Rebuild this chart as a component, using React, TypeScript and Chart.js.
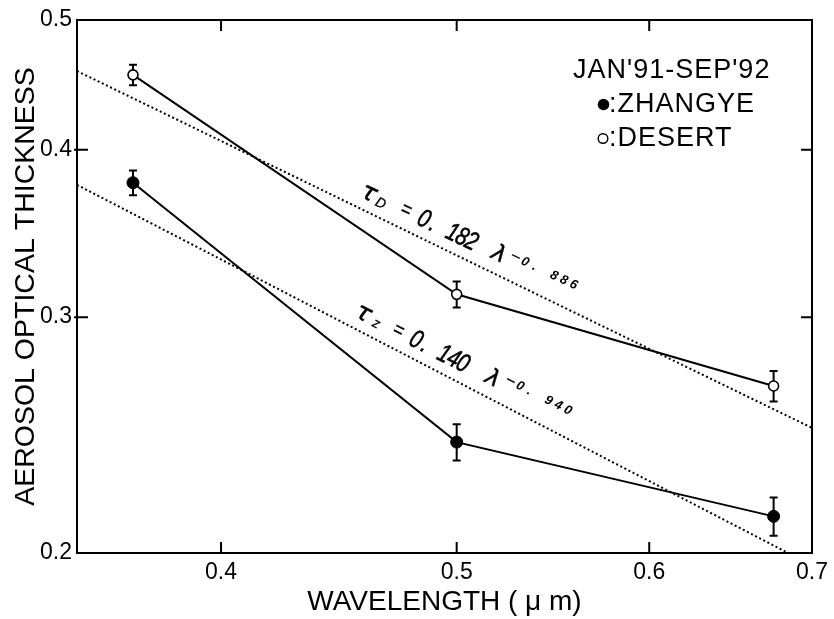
import React, { useEffect, useRef } from 'react';
import { Chart, registerables } from 'chart.js';

Chart.register(...registerables);

// ---- data ----
const wavelengths = [0.368, 0.5, 0.675];
const zhangyeAOT = [0.378, 0.242, 0.213];
const zhangyeErr = [0.008, 0.0075, 0.007];
const desertAOT = [0.455, 0.312, 0.2665];
const desertErr = [0.008, 0.007, 0.007];
// fitted power-law lines (straight in log-log), end values at the axis range
const fitWavelengths = [0.349, 0.7];
const desertFit = [0.458, 0.248];
const zhangyeFit = [0.3766, 0.1958];
const xTicks = [0.4, 0.5, 0.6, 0.7];
const yTicks = [0.2, 0.3, 0.4, 0.5];
const xRange = [0.349, 0.7];
const yRange = [0.2, 0.5];
// annotation anchors (data coordinates of the leading τ)
const desertLabelAnchor = [0.46, 0.371];
const zhangyeLabelAnchor = [0.4576, 0.3017];

const SANS = '"Liberation Sans", Arial, Helvetica, sans-serif';

const toPts = (xs: number[], ys: number[]) => xs.map((x, i) => ({ x, y: ys[i] }));

type Glyph = { ch: string; a: number; p: number; font: string; sx?: number; w?: number };

function formulaGlyphs(sub: string, coef: string, expo: string, layout: any): Glyph[] {
  const g: Glyph[] = [];
  const mainFont = `italic 26px ${SANS}`;
  const expFont = `italic bold 13px ${SANS}`;
  g.push({ ch: 'τ', a: 0, p: 0, font: 'italic 25px "DejaVu Sans"', w: 0.5 });
  g.push({ ch: sub, a: layout.sub, p: layout.subP, font: `italic 14px ${SANS}`, w: 0.3 });
  g.push({ ch: '=', a: layout.eq, p: -1, font: `italic 22px ${SANS}`, sx: 0.8, w: 0.3 });
  coef.split('').forEach((ch, i) => {
    if (ch !== ' ') g.push({ ch, a: layout.coef + i * 10.5, p: 0, font: mainFont, sx: 0.78, w: 0.6 });
  });
  g.push({ ch: 'λ', a: layout.lam, p: 0, font: 'italic 23px "DejaVu Sans"', w: 0.4 });
  expo.split('').forEach((ch, i) => {
    if (ch === ' ') return;
    if (ch === '-') g.push({ ch: '−', a: layout.exp + i * 10.7, p: layout.expP, font: `17px ${SANS}`, w: 0.3 });
    else g.push({ ch, a: layout.exp + i * 10.7, p: layout.expP, font: expFont });
  });
  return g;
}

const desertGlyphs = formulaGlyphs('D', '0. 182', '-0. 886', { sub: 15, subP: 4, eq: 41, coef: 61, lam: 144, exp: 160, expP: -5 });
const zhangyeGlyphs = formulaGlyphs('z', '0. 140', '-0. 940', { sub: 16, subP: 3, eq: 39, coef: 59, lam: 145, exp: 162, expP: -6 });

const errorBarPlugin = {
  id: 'errorBars',
  beforeDatasetsDraw(chart: any) {
    const { ctx, scales } = chart;
    const x = scales.x, y = scales.y;
    const sets = [
      { v: zhangyeAOT, e: zhangyeErr },
      { v: desertAOT, e: desertErr },
    ];
    ctx.save();
    ctx.strokeStyle = '#000';
    ctx.lineWidth = 2;
    sets.forEach(({ v, e }) => {
      wavelengths.forEach((w, i) => {
        const px = x.getPixelForValue(w);
        const top = y.getPixelForValue(v[i] + e[i]);
        const bot = y.getPixelForValue(v[i] - e[i]);
        ctx.beginPath();
        ctx.moveTo(px, top);
        ctx.lineTo(px, bot);
        ctx.moveTo(px - 4, top);
        ctx.lineTo(px + 4, top);
        ctx.moveTo(px - 4, bot);
        ctx.lineTo(px + 4, bot);
        ctx.stroke();
      });
    });
    ctx.restore();
  },
};

const framePlugin = {
  id: 'frame',
  afterDatasetsDraw(chart: any) {
    const { ctx, chartArea: ca, scales } = chart;
    ctx.save();
    ctx.strokeStyle = '#000';
    ctx.lineWidth = 2;
    ctx.strokeRect(ca.left, ca.top, ca.right - ca.left, ca.bottom - ca.top);
    const L = 11;
    ctx.beginPath();
    xTicks.forEach((t) => {
      const px = scales.x.getPixelForValue(t);
      if (px <= ca.left + 2 || px >= ca.right - 2) return;
      ctx.moveTo(px, ca.bottom);
      ctx.lineTo(px, ca.bottom - L);
      ctx.moveTo(px, ca.top);
      ctx.lineTo(px, ca.top + L);
    });
    yTicks.forEach((t) => {
      const py = scales.y.getPixelForValue(t);
      if (py <= ca.top + 2 || py >= ca.bottom - 2) return;
      ctx.moveTo(ca.left - 3, py);
      ctx.lineTo(ca.left + L, py);
      ctx.moveTo(ca.right, py);
      ctx.lineTo(ca.right - L, py);
    });
    ctx.stroke();
    ctx.restore();
  },
};

function drawFormula(ctx: CanvasRenderingContext2D, ox: number, oy: number, angle: number, glyphs: Glyph[]) {
  ctx.save();
  ctx.translate(ox, oy);
  ctx.rotate(angle);
  ctx.fillStyle = '#000';
  ctx.strokeStyle = '#000';
  ctx.textAlign = 'center';
  ctx.textBaseline = 'middle';
  glyphs.forEach((g) => {
    ctx.save();
    ctx.translate(g.a, g.p);
    ctx.scale(g.sx ?? 1, 1);
    ctx.font = g.font;
    ctx.fillText(g.ch, 0, 0);
    if (g.w) {
      ctx.lineWidth = g.w;
      ctx.strokeText(g.ch, 0, 0);
    }
    ctx.restore();
  });
  ctx.restore();
}

const annotationPlugin = {
  id: 'annotations',
  afterDraw(chart: any) {
    const { ctx, scales } = chart;
    const x = scales.x, y = scales.y;
    const lineAngle = (fit: number[]) => {
      const x0 = x.getPixelForValue(fitWavelengths[0]);
      const x1 = x.getPixelForValue(fitWavelengths[1]);
      const y0 = y.getPixelForValue(fit[0]);
      const y1 = y.getPixelForValue(fit[1]);
      return Math.atan2(y1 - y0, x1 - x0) - (0.6 * Math.PI) / 180;
    };
    drawFormula(ctx, x.getPixelForValue(desertLabelAnchor[0]), y.getPixelForValue(desertLabelAnchor[1]), lineAngle(desertFit), desertGlyphs);
    drawFormula(ctx, x.getPixelForValue(zhangyeLabelAnchor[0]), y.getPixelForValue(zhangyeLabelAnchor[1]), lineAngle(zhangyeFit), zhangyeGlyphs);

    // legend text block
    ctx.save();
    ctx.fillStyle = '#000';
    ctx.strokeStyle = '#000';
    ctx.font = `27px ${SANS}`;
    (ctx as any).letterSpacing = '1px';
    ctx.textAlign = 'left';
    ctx.textBaseline = 'alphabetic';
    ctx.fillText("JAN'91-SEP'92", 573, 78);
    ctx.fillText(':ZHANGYE', 609, 112);
    ctx.fillText(':DESERT', 609, 146);
    ctx.beginPath();
    ctx.arc(603.5, 104.5, 5.8, 0, Math.PI * 2);
    ctx.fill();
    ctx.beginPath();
    ctx.lineWidth = 1.4;
    ctx.arc(603, 138.5, 4.8, 0, Math.PI * 2);
    ctx.stroke();
    ctx.restore();
  },
};

export default function App() {
  const ref = useRef<HTMLCanvasElement | null>(null);
  useEffect(() => {
    if (!ref.current) return;
    const chart = new Chart(ref.current, {
      type: 'line',
      data: {
        datasets: [
          {
            label: 'ZHANGYE',
            data: toPts(wavelengths, zhangyeAOT),
            borderColor: '#000',
            borderWidth: 2,
            pointRadius: 6,
            pointBackgroundColor: '#000',
            pointBorderColor: '#000',
            pointBorderWidth: 1,
            order: 1,
          },
          {
            label: 'DESERT',
            data: toPts(wavelengths, desertAOT),
            borderColor: '#000',
            borderWidth: 2,
            pointRadius: 5,
            pointBackgroundColor: '#fff',
            pointBorderColor: '#000',
            pointBorderWidth: 1.6,
            order: 1,
          },
          {
            label: 'fitD',
            data: toPts(fitWavelengths, desertFit),
            borderColor: '#000',
            borderWidth: 2,
            borderDash: [2, 2.6],
            pointRadius: 0,
            order: 2,
          },
          {
            label: 'fitZ',
            data: toPts(fitWavelengths, zhangyeFit),
            borderColor: '#000',
            borderWidth: 2,
            borderDash: [2, 2.6],
            pointRadius: 0,
            order: 2,
          },
        ],
      },
      options: {
        responsive: false,
        animation: false,
        events: [],
        layout: { padding: { top: 20, right: 16, left: 0, bottom: 0 } },
        plugins: { legend: { display: false }, tooltip: { enabled: false } },
        scales: {
          x: {
            type: 'logarithmic',
            min: xRange[0],
            max: xRange[1],
            grid: { display: false, drawTicks: false },
            border: { display: false },
            afterBuildTicks: (s: any) => {
              s.ticks = xTicks.map((v) => ({ value: v }));
            },
            afterFit: (s: any) => {
              s.height = 66;
            },
            ticks: {
              autoSkip: false,
              maxRotation: 0,
              padding: 6,
              color: '#000',
              font: { family: SANS, size: 23 },
              callback: (v: any) => String(Number(v)),
            },
            title: {
              display: true,
              text: 'WAVELENGTH ( μ m)',
              color: '#000',
              font: { family: SANS, size: 28 },
              padding: { top: 0, bottom: 0 },
            },
          },
          y: {
            type: 'logarithmic',
            min: yRange[0],
            max: yRange[1],
            grid: { display: false, drawTicks: false },
            border: { display: false },
            afterBuildTicks: (s: any) => {
              s.ticks = yTicks.map((v) => ({ value: v }));
            },
            afterFit: (s: any) => {
              s.width = 77;
            },
            ticks: {
              autoSkip: false,
              padding: 5,
              color: '#000',
              font: { family: SANS, size: 23 },
              callback: (v: any) => String(Number(v)),
            },
            title: {
              display: true,
              text: 'AEROSOL OPTICAL THICKNESS',
              color: '#000',
              font: { family: SANS, size: 28.5 },
              padding: { top: 9, bottom: 0 },
            },
          },
        },
      },
      plugins: [errorBarPlugin, framePlugin, annotationPlugin],
    } as any);
    return () => chart.destroy();
  }, []);
  return (
    <div style={{ position: 'absolute', left: 0, top: 0, width: 834, height: 619, background: '#fff' }}>
      <canvas ref={ref} width={834} height={619} />
    </div>
  );
}
